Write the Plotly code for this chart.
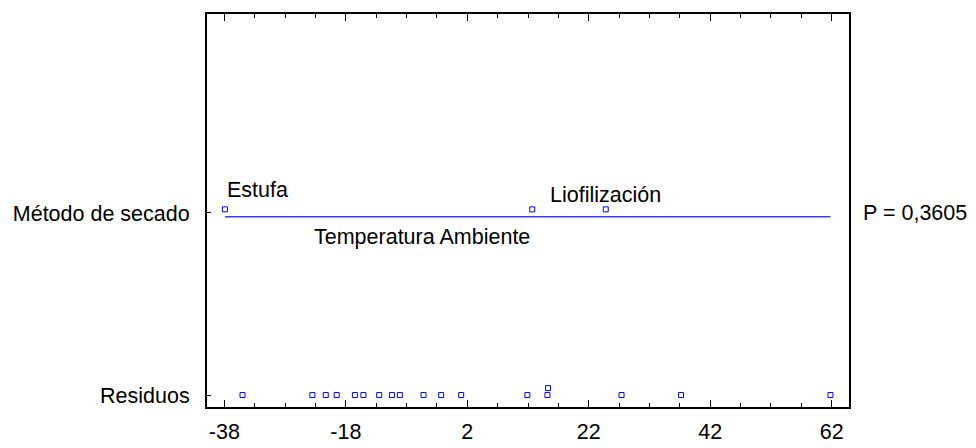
import plotly.graph_objects as go

# ---- data ----
group_names = ["Estufa", "Temperatura Ambiente", "Liofilización"]
group_effects = [-37.9, 12.7, 24.8]
residuals = [-35.0, -23.5, -21.3, -19.5, -16.5, -15.1, -12.5, -10.4, -9.1,
             -5.2, -2.3, 1.0, 11.9, 15.2, 15.3, 27.4, 37.2, 61.8]
residual_stack = [0, 0, 0, 0, 0, 0, 0, 0, 0, 0, 0, 0, 0, 0, 1, 0, 0, 0]
row_labels = ["Residuos", "Método de secado"]
row_values = [0, 1]
p_text = "P = 0,3605"
x_ticks = [-38, -18, 2, 22, 42, 62]

FONT = "Liberation Sans, Arial, sans-serif"
FS = 21.5
BLUE = "#0000ff"
LINE_BLUE = "#3a3aff"

method_row = row_values[1]
resid_row = row_values[0]
stack_step = 0.038

fig = go.Figure()

all_vals = group_effects + residuals
fig.add_trace(go.Scatter(
    x=[min(all_vals), max(all_vals)], y=[method_row - 0.02, method_row - 0.02],
    mode="lines", line=dict(color=LINE_BLUE, width=1.5), hoverinfo="skip",
    showlegend=False))

fig.add_trace(go.Scatter(
    x=group_effects, y=[method_row + 0.02] * len(group_effects),
    mode="markers",
    marker=dict(symbol="square-open", size=5, color=BLUE, line=dict(width=1, color=BLUE)),
    showlegend=False))

fig.add_trace(go.Scatter(
    x=residuals, y=[resid_row + s * stack_step for s in residual_stack],
    mode="markers",
    marker=dict(symbol="square-open", size=5, color=BLUE, line=dict(width=1, color=BLUE)),
    showlegend=False))

# group labels
label_specs = [
    dict(xanchor="left", dy=0.126),
    dict(xanchor="right", dy=-0.131),
    dict(xanchor="center", dy=0.098),
]
for name, val, spec in zip(group_names, group_effects, label_specs):
    fig.add_annotation(x=val, y=method_row + spec["dy"], text=name, showarrow=False,
                       xanchor=spec["xanchor"], yanchor="middle",
                       font=dict(family=FONT, size=FS, color="black"))

fig.add_annotation(xref="paper", x=1, xshift=12, y=method_row, text=p_text,
                   showarrow=False, xanchor="left", yanchor="middle",
                   font=dict(family=FONT, size=FS, color="black"))

# page body has an 8px default margin, so the figure is sized to fit the window
fig.update_layout(
    width=968, height=440,
    margin=dict(l=199, r=127, t=4, b=41),
    paper_bgcolor="white", plot_bgcolor="white",
    font=dict(family=FONT, size=FS, color="black"),
    showlegend=False,
)
fig.update_xaxes(
    range=[-40.85, 64.85], tickvals=x_ticks, ticktext=[str(t) for t in x_ticks],
    ticks="inside", ticklen=7, tickcolor="black", tickwidth=1,
    minor=dict(dtick=5, tick0=-38, ticks="inside", ticklen=4, tickcolor="black"),
    showline=True, linecolor="black", linewidth=2, mirror="allticks",
    showgrid=False, zeroline=False, ticklabelstandoff=4,
)
fig.update_yaxes(
    range=[-0.0656, 2.093], tickvals=row_values, ticktext=row_labels,
    ticks="inside", ticklen=4, tickcolor="black",
    showline=True, linecolor="black", linewidth=2, mirror=True,
    showgrid=False, zeroline=False, ticklabelstandoff=11,
)

fig.write_html("out.html")
